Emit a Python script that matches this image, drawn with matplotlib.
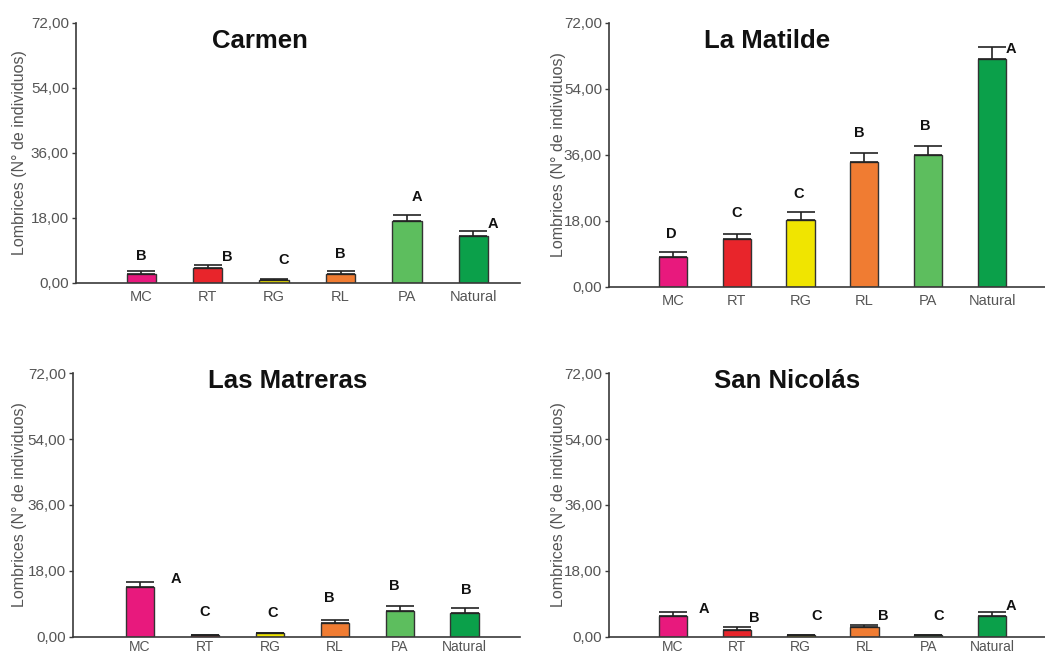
import matplotlib.pyplot as plt

# data
categories = ['MC', 'RT', 'RG', 'RL', 'PA', 'Natural']
sites = ['Carmen', 'La Matilde', 'Las Matreras', 'San Nicolás']

carmen_mean = [2.5, 4.1, 0.9, 2.5, 17.1, 13.1]
carmen_err = [0.8, 1.0, 0.2, 0.8, 1.7, 1.4]
carmen_letters = ['B', 'B', 'C', 'B', 'A', 'A']

matilde_mean = [8.2, 12.9, 18.2, 34.0, 35.9, 62.0]
matilde_err = [1.2, 1.6, 2.1, 2.5, 2.4, 3.5]
matilde_letters = ['D', 'C', 'C', 'B', 'B', 'A']

matreras_mean = [13.5, 0.35, 0.9, 3.7, 7.1, 6.4]
matreras_err = [1.4, 0.1, 0.2, 0.9, 1.4, 1.4]
matreras_letters = ['A', 'C', 'C', 'B', 'B', 'B']

nicolas_mean = [5.65, 1.7, 0.5, 2.55, 0.5, 5.65]
nicolas_err = [1.15, 0.85, 0.1, 0.75, 0.1, 1.15]
nicolas_letters = ['A', 'B', 'C', 'B', 'C', 'A']

yticks = [0, 18, 36, 54, 72]
ytick_labels = ['0,00', '18,00', '36,00', '54,00', '72,00']
ylabel = 'Lombrices (N° de individuos)'

bar_colors = ['#E8197D', '#E8252B', '#F0E500', '#F07C32', '#5DBE5E', '#0BA04A']

# layout (pixels) and letter placement
W, H = 1045, 656
panels = [
    dict(mean=carmen_mean, err=carmen_err, letters=carmen_letters,
         box=[76, 283, 520, 22.7], xlim=(-0.98, 5.7), title_xy=(260, 41),
         ylab_x=20, xpad=5, xfs=10.5, xoff=[0, 0.3, 0.14, 0, 0.15, 0.3],
         ly=[7.5, 7.1, 6.4, 7.9, 23.9, 16.2]),
    dict(mean=matilde_mean, err=matilde_err, letters=matilde_letters,
         box=[609, 286.7, 1045, 22.7], xlim=(-1.0, 5.83), title_xy=(767, 41),
         ylab_x=558, xpad=5, xfs=10.5, xoff=[-0.03, 0, -0.03, -0.08, -0.04, 0.29],
         ly=[14.3, 20.0, 25.3, 41.8, 43.8, 64.7]),
    dict(mean=matreras_mean, err=matreras_err, letters=matreras_letters,
         box=[72.7, 636.7, 520, 373.3], xlim=(-1.035, 5.85), title_xy=(288, 381),
         ylab_x=20, xpad=2.5, xfs=10, xoff=[0.56, 0, 0.05, -0.08, -0.08, 0.03],
         ly=[15.8, 6.8, 6.4, 10.7, 13.9, 12.8]),
    dict(mean=nicolas_mean, err=nicolas_err, letters=nicolas_letters,
         box=[609.3, 636.7, 1045, 373.3], xlim=(-1.0, 5.83), title_xy=(787, 381),
         ylab_x=558, xpad=2.5, xfs=10, xoff=[0.48, 0.28, 0.25, 0.29, 0.16, 0.29],
         ly=[7.5, 5.0, 5.65, 5.65, 5.65, 8.4]),
]

plt.rcParams['font.family'] = ['Liberation Sans', 'DejaVu Sans']
axis_col = '#3a3a3a'
text_col = '#555555'

fig = plt.figure(figsize=(W / 100, H / 100), dpi=100)

for site, p in zip(sites, panels):
    x0, yb, x1, yt = p['box']
    ax = fig.add_axes([x0 / W, 1 - yb / H, (x1 - x0) / W, (yb - yt) / H])
    xs = range(len(categories))
    ax.bar(xs, p['mean'], width=0.44, color=bar_colors,
           edgecolor='#333333', linewidth=1.0, zorder=2)
    ax.errorbar(xs, p['mean'], yerr=[[0] * len(xs), p['err']], fmt='none',
                ecolor='#222222', elinewidth=1.2, capsize=10, capthick=1.2, zorder=3)
    for i, lab in enumerate(p['letters']):
        ax.text(i + p['xoff'][i], p['ly'][i], lab, ha='center', va='center',
                fontsize=10.5, fontweight='bold', color='#111111')

    ax.set_xlim(*p['xlim'])
    ax.set_ylim(0, 72)
    ax.set_yticks(yticks)
    ax.set_yticklabels(ytick_labels, fontsize=11, color=text_col)
    ax.set_xticks(list(xs))
    ax.set_xticklabels(categories, fontsize=p['xfs'], color=text_col)
    ax.tick_params(axis='y', length=3, width=1, color=axis_col, pad=2)
    ax.tick_params(axis='x', length=0, pad=p['xpad'])
    for s in ['top', 'right']:
        ax.spines[s].set_visible(False)
    for s in ['left', 'bottom']:
        ax.spines[s].set_color(axis_col)
        ax.spines[s].set_linewidth(1.2)

    fig.text(p['ylab_x'] / W, 1 - ((yb + yt) / 2) / H, ylabel, rotation=90,
             ha='center', va='center', fontsize=11.5, color=text_col)
    tx, ty = p['title_xy']
    fig.text(tx / W, 1 - ty / H, site, ha='center', va='center',
             fontsize=18.5, fontweight='bold', color='#111111')

fig.savefig('out.png', dpi=100)
